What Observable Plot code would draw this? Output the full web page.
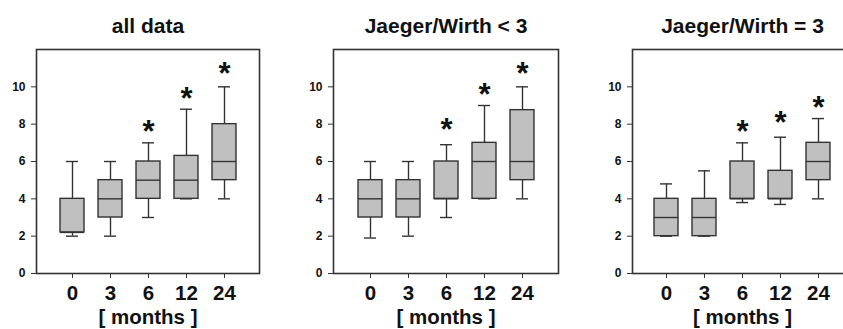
<!DOCTYPE html>
<html>
<head>
<meta charset="utf-8">
<script src="https://cdn.jsdelivr.net/npm/d3@7"></script>
<script src="https://cdn.jsdelivr.net/npm/@observablehq/plot@0.6"></script>
<style>
  html, body { margin: 0; padding: 0; background: #fff; overflow: hidden; width: 843px; height: 329px; position: relative; }
  .panel { position: absolute; top: 0; }
  .panel svg { max-width: none !important; display: block; }
</style>
</head>
<body>
<div id="p1" class="panel" style="left:0px;width:281px"></div>
<div id="p2" class="panel" style="left:281px;width:281px"></div>
<div id="p3" class="panel" style="left:562px;width:300px"></div>
<script>
const months = ["0", "3", "6", "12", "24"];
const yTicks = [0, 2, 4, 6, 8, 10];

// Panel 1: all data
const allMin = [2.0, 2.0, 3.0, 4.0, 4.0];
const allQ1  = [2.2, 3.0, 4.0, 4.0, 5.0];
const allMed = [2.2, 4.0, 5.0, 5.0, 6.0];
const allQ3  = [4.0, 5.0, 6.0, 6.3, 8.0];
const allMax = [6.0, 6.0, 7.0, 8.8, 10.0];
const allStar = [null, null, 7.8, 9.6, 10.9];

// Panel 2: Jaeger/Wirth < 3
const ltMin = [1.9, 2.0, 3.0, 4.0, 4.0];
const ltQ1  = [3.0, 3.0, 4.0, 4.0, 5.0];
const ltMed = [4.0, 4.0, 4.0, 6.0, 6.0];
const ltQ3  = [5.0, 5.0, 6.0, 7.0, 8.75];
const ltMax = [6.0, 6.0, 6.9, 9.0, 10.0];
const ltStar = [null, null, 7.9, 9.8, 10.9];

// Panel 3: Jaeger/Wirth = 3
const eqMin = [2.0, 2.0, 3.8, 3.7, 4.0];
const eqQ1  = [2.0, 2.0, 4.0, 4.0, 5.0];
const eqMed = [3.0, 3.0, 4.0, 4.0, 6.0];
const eqQ3  = [4.0, 4.0, 6.0, 5.5, 7.0];
const eqMax = [4.8, 5.5, 7.0, 7.3, 8.3];
const eqStar = [null, null, 7.8, 8.3, 9.1];

const titles = ["all data", "Jaeger/Wirth < 3", "Jaeger/Wirth = 3"];

const font = "'Liberation Sans', Arial, sans-serif";
const ink = "#333";

function panel(title, mn, q1, md, q3, mx, star, layout) {
  const rows = months.map((m, i) => ({m, min: mn[i], q1: q1[i], med: md[i], q3: q3[i], max: mx[i], star: star[i]}));
  return Plot.plot({
    width: layout.width,
    height: 329,
    marginLeft: layout.ml,
    marginRight: layout.mr,
    marginTop: 49,
    marginBottom: 56,
    style: {fontFamily: font, color: "#111", background: "#fff", overflow: "visible"},
    x: {type: "band", domain: months, paddingInner: 0.38, paddingOuter: 0.58},
    y: {domain: [0, 12]},
    marks: [
      Plot.ruleX(rows, {x: "m", y1: "q3", y2: "max", stroke: ink, strokeWidth: 1.4}),
      Plot.ruleX(rows, {x: "m", y1: "min", y2: "q1", stroke: ink, strokeWidth: 1.4}),
      Plot.tickY(rows, {x: "m", y: "max", stroke: ink, strokeWidth: 1.4, insetLeft: 6, insetRight: 6}),
      Plot.tickY(rows, {x: "m", y: "min", stroke: ink, strokeWidth: 1.4, insetLeft: 6, insetRight: 6}),
      Plot.barY(rows, {x: "m", y1: "q1", y2: "q3", fill: "#c0c0c0", stroke: ink, strokeWidth: 1.4}),
      Plot.tickY(rows, {x: "m", y: "med", stroke: ink, strokeWidth: 1.4}),
      Plot.text(rows.filter(d => d.star != null), {x: "m", y: "star", text: () => "*", fontSize: 31, fontWeight: "bold", fill: "#111", dy: 4.5}),
      Plot.frame({stroke: ink, strokeWidth: 1.6}),
      Plot.axisY({ticks: yTicks, tickSize: 5, tickPadding: 6, fontSize: 12, fontWeight: "bold", label: null, stroke: ink}),
      Plot.axisX({tickSize: 5, tickPadding: 7, fontSize: 20.5, fontWeight: "bold", label: null, stroke: ink}),
      Plot.text([title], {frameAnchor: "top", lineAnchor: "middle", dy: -23.7, fontSize: 21, fontWeight: "bold", fill: "#111", text: d => d}),
      Plot.text(["[ months ]"], {frameAnchor: "bottom", lineAnchor: "middle", dy: 44.4, fontSize: 20.5, fontWeight: "bold", fill: "#111", text: d => d})
    ]
  });
}

document.getElementById("p1").append(panel(titles[0], allMin, allQ1, allMed, allQ3, allMax, allStar, {width: 281, ml: 36, mr: 22}));
document.getElementById("p2").append(panel(titles[1], ltMin, ltQ1, ltMed, ltQ3, ltMax, ltStar, {width: 281, ml: 52, mr: 4}));
document.getElementById("p3").append(panel(titles[2], eqMin, eqQ1, eqMed, eqQ3, eqMax, eqStar, {width: 300, ml: 70, mr: 10}));
</script>
</body>
</html>
